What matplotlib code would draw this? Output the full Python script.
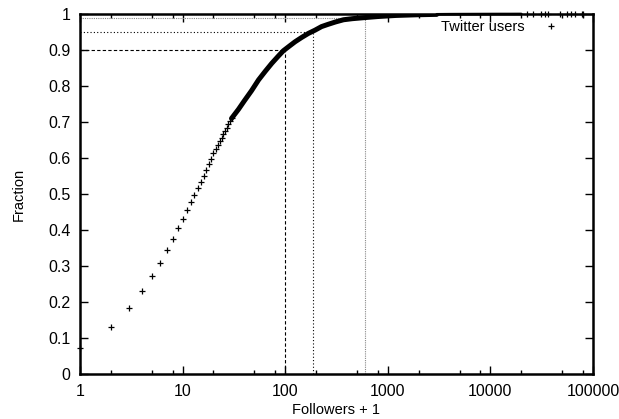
import numpy as np
import matplotlib
matplotlib.use("Agg")
import matplotlib.pyplot as plt
from matplotlib.ticker import LogLocator, FixedLocator, NullFormatter

plt.rcParams['font.family'] = ['Liberation Sans', 'DejaVu Sans']

# ======================================
# DATA
# ======================================

# followers + 1, one marker per integer for the sparse low end
low_x = np.arange(1, 31)
low_y = [0.072, 0.131, 0.183, 0.230, 0.272, 0.309, 0.344, 0.376, 0.405, 0.430,
         0.455, 0.477, 0.497, 0.518, 0.534, 0.551, 0.567, 0.584, 0.597, 0.613,
         0.624, 0.635, 0.646, 0.656, 0.666, 0.675, 0.684, 0.694, 0.702, 0.710]

# dense part of the curve, where the markers merge into a thick band
dense_x = [30, 35, 40, 47, 55, 64, 74, 85, 96, 110, 125, 145, 168, 195, 226,
           260, 310, 370, 450, 595, 800, 1200, 2000, 3000]
dense_y = [0.710, 0.735, 0.759, 0.787, 0.817, 0.841, 0.863, 0.882, 0.898, 0.911,
           0.923, 0.935, 0.946, 0.955, 0.965, 0.971, 0.978, 0.984, 0.987, 0.990,
           0.993, 0.996, 0.998, 0.999]

# thin tail near 1
tail_x = [3000, 4000, 6000, 8000, 10000, 13000, 16000, 20000]
tail_y = [0.999, 0.9993, 0.9995, 0.9996, 0.9997, 0.9998, 0.9998, 0.9999]

# scattered heaviest users
top_x = [22700, 26000, 31100, 34000, 36400, 47700, 55800, 61000, 66800, 78200, 79900]
top_y = [0.9999, 0.9999, 0.99995, 0.99995, 0.99995, 0.99997, 0.99998, 0.99998,
         0.99999, 0.99999, 1.0]

# percentile guide lines: (followers + 1, fraction)
guide_x = [100, 185, 595]
guide_y = [0.90, 0.95, 0.99]

# ======================================
# PLOT
# ======================================

fig = plt.figure(figsize=(6.19, 4.19), dpi=100)
ax = fig.add_axes([80 / 619, 45 / 419, 513 / 619, 360 / 419])

styles = [dict(color='black', ls=(0, (3, 2)), lw=0.8),
          dict(color='black', ls=(0, (1, 2)), lw=0.8),
          dict(color='#888888', ls=(0, (1, 1)), lw=0.8)]
for gx, gy, st in zip(guide_x, guide_y, styles):
    ax.plot([1, gx], [gy, gy], **st)
    ax.plot([gx, gx], [0, gy], **st)

ax.plot(dense_x, dense_y, color='black', lw=3.6, solid_capstyle='round')
ax.plot(tail_x, tail_y, color='black', lw=2.0, solid_capstyle='round', clip_on=False)
ax.plot(low_x, low_y, 'k+', ms=4.5, mew=0.9, clip_on=False, label='Twitter users')
ax.plot(top_x, top_y, 'k+', ms=4.5, mew=0.9, clip_on=False)

ax.set_xscale('log')
ax.set_xlim(1, 100000)
ax.set_ylim(0, 1)

ax.xaxis.set_minor_locator(LogLocator(base=10, subs=[2, 5, 8], numticks=20))
ax.xaxis.set_minor_formatter(NullFormatter())
ax.set_xticks([1, 10, 100, 1000, 10000, 100000])
ax.set_xticklabels(['1', '10', '100', '1000', '10000', '100000'])
ax.yaxis.set_major_locator(FixedLocator(np.arange(0, 1.01, 0.1)))
ax.set_yticklabels(['0', '0.1', '0.2', '0.3', '0.4', '0.5', '0.6', '0.7', '0.8', '0.9', '1'])

ax.tick_params(which='both', direction='in', top=True, right=True, width=1.0,
               labelsize=11.5)
ax.tick_params(which='major', length=6, pad=7)
ax.tick_params(which='minor', length=3)
for s in ax.spines.values():
    s.set_linewidth(1.8)

ax.set_xlabel('Followers + 1', fontsize=10.5, labelpad=3)
ax.set_ylabel('Fraction', fontsize=10.5, labelpad=16)

ax.legend(loc='upper right', frameon=False, markerfirst=False, fontsize=10.5,
          handlelength=2.0, borderaxespad=0.2, bbox_to_anchor=(0.963, 1.008))

fig.savefig('out.png', dpi=100)
